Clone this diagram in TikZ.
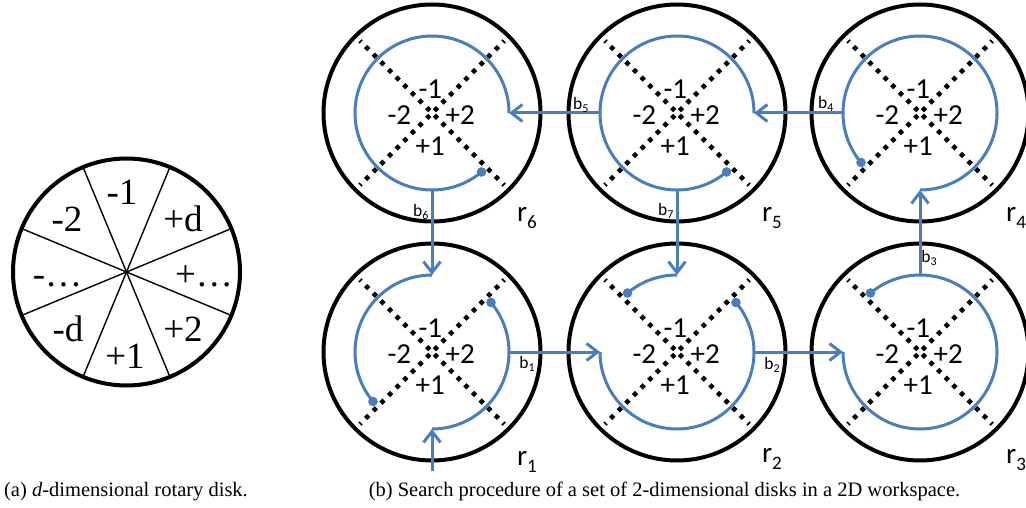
\documentclass[tikz,border=0pt]{standalone}
\usepackage{fontspec}
\setmainfont{Liberation Serif}
\newfontfamily\calib{Carlito}
\usetikzlibrary{arrows.meta}
\definecolor{pblue}{RGB}{74,126,187}
\newcommand\rsub[2]{#1\raisebox{-7pt}{\fontsize{19}{19}\selectfont #2}}
\newcommand\bsub[2]{#1\raisebox{-3.5pt}{\fontsize{12}{12}\selectfont #2}}
\begin{document}
\begin{tikzpicture}[x=1pt,y=1pt,
  outerdisk/.style={line width=4pt},
  spoke/.style={line width=1.4pt},
  alab/.style={font=\fontsize{37}{37}\selectfont, inner sep=0pt, anchor=base},
  diagdots/.style={line width=4.6pt, dash pattern=on 4.4pt off 6.4pt, dash phase=7.6pt},
  bluearc/.style={pblue, line width=3pt},
  bluelink/.style={pblue, line width=3pt, -{Straight Barb[length=11pt,width=17pt]}},
  dlab/.style={font=\calib\fontsize{29}{29}\selectfont, inner sep=0pt},
  blab/.style={font=\calib\fontsize{17.5}{17.5}\selectfont, inner sep=0pt},
  rlab/.style={font=\calib\fontsize{29}{29}\selectfont, inner sep=0pt},
  caplab/.style={font=\fontsize{20.5}{24}\selectfont, inner sep=0pt, anchor=base}
]
\useasboundingbox (0,0) rectangle (1026,507);

% ---------- (a) rotary disk ----------
\coordinate (ca) at (126.5,235);
\foreach \a in {22.5,67.5,...,337.5} \draw[spoke] (ca) -- ++(\a:111.5);
\draw[outerdisk] (ca) circle[radius=113.5];
\node[alab] (am1) at (122,302) {-1};
\node[alab] (am2) at (67,275.5) {-2};
\node[alab] (apd) at (183,275.5) {+d};
\node[alab] (amdots) at (57.5,220.3) {-…};
\node[alab] (apdots) at (204,220.3) {+…};
\node[alab] (amd) at (68,166) {-d};
\node[alab] (ap2) at (183,166) {+2};
\node[alab] (ap1) at (125,139) {+1};
\node[caplab] (capa) at (126,11) {(a) \textit{d}-dimensional rotary disk.};

% ---------- (b) disks ----------
\foreach \n/\cx/\cy in {1/432/155, 2/677/155, 3/920/155, 4/920/394, 5/677/394, 6/432/394} {
  \coordinate (c\n) at (\cx,\cy);
  \draw[outerdisk] (c\n) circle[radius=108.5];
  \foreach \a in {45,135,225,315} \draw[diagdots] (c\n) -- ++(\a:102);
  \node[dlab] (m1\n) at ([shift={(-1.7,23.5)}]c\n) {-1};
  \node[dlab] (m2\n) at ([shift={(-32.7,-2)}]c\n) {-2};
  \node[dlab] (p2\n) at ([shift={(28.3,-2)}]c\n) {+2};
  \node[dlab] (p1\n) at ([shift={(-1.7,-33.5)}]c\n) {+1};
  \coordinate (e\n) at ([shift={(0:77)}]c\n);
  \coordinate (n\n) at ([shift={(90:77)}]c\n);
  \coordinate (w\n) at ([shift={(180:77)}]c\n);
  \coordinate (s\n) at ([shift={(270:77)}]c\n);
}

% r labels
\node[rlab] (r1) at (527,45) {\rsub{r}{1}};
\node[rlab] (r2) at (772,48) {\rsub{r}{2}};
\node[rlab] (r3) at (1016,47) {\rsub{r}{3}};
\node[rlab] (r4) at (1016,289) {\rsub{r}{4}};
\node[rlab] (r5) at (772,289) {\rsub{r}{5}};
\node[rlab] (r6) at (527,289) {\rsub{r}{6}};

% blue arcs and end dots
\draw[bluearc] (c1) ++(270:77) arc[start angle=270, end angle=400, radius=77];
\fill[pblue] (c1) ++(40:77) circle[radius=4.8];
\draw[bluearc] (c1) ++(90:77) arc[start angle=90, end angle=220, radius=77];
\fill[pblue] (c1) ++(220:77) circle[radius=4.8];
\draw[bluearc] (c2) ++(180:77) arc[start angle=180, end angle=400, radius=77];
\fill[pblue] (c2) ++(40:77) circle[radius=4.8];
\draw[bluearc] (c2) ++(90:77) arc[start angle=90, end angle=130, radius=77];
\fill[pblue] (c2) ++(130:77) circle[radius=4.8];
\draw[bluearc] (c3) ++(180:77) arc[start angle=180, end angle=490, radius=77];
\fill[pblue] (c3) ++(130:77) circle[radius=4.8];
\draw[bluearc] (c4) ++(270:77) arc[start angle=270, end angle=580, radius=77];
\fill[pblue] (c4) ++(220:77) circle[radius=4.8];
\draw[bluearc] (c5) ++(0:77) arc[start angle=0, end angle=310, radius=77];
\fill[pblue] (c5) ++(310:77) circle[radius=4.8];
\draw[bluearc] (c6) ++(0:77) arc[start angle=0, end angle=310, radius=77];
\fill[pblue] (c6) ++(310:77) circle[radius=4.8];

% links
\coordinate (start) at (432,36);
\draw[bluelink] (start) -- (s1);
\draw[bluelink] (e1) -- (w2);
\draw[bluelink] (e2) -- (w3);
\draw[bluelink] (n3) -- (s4);
\draw[bluelink] (w4) -- (e5);
\draw[bluelink] (w5) -- (e6);
\draw[bluelink] (s6) -- (n1);
\draw[bluelink] (s5) -- (n2);

% b labels
\node[blab] (b1) at (527,143) {\bsub{b}{1}};
\node[blab] (b2) at (772,142) {\bsub{b}{2}};
\node[blab] (b3) at (929,249) {\bsub{b}{3}};
\node[blab] (b4) at (825.7,403) {\bsub{b}{4}};
\node[blab] (b5) at (580.7,402) {\bsub{b}{5}};
\node[blab] (b6) at (420.7,295) {\bsub{b}{6}};
\node[blab] (b7) at (665.7,296) {\bsub{b}{7}};

\node[caplab] (capb) at (664.5,11) {(b) Search procedure of a set of 2-dimensional disks in a 2D workspace.};
\end{tikzpicture}
\end{document}
